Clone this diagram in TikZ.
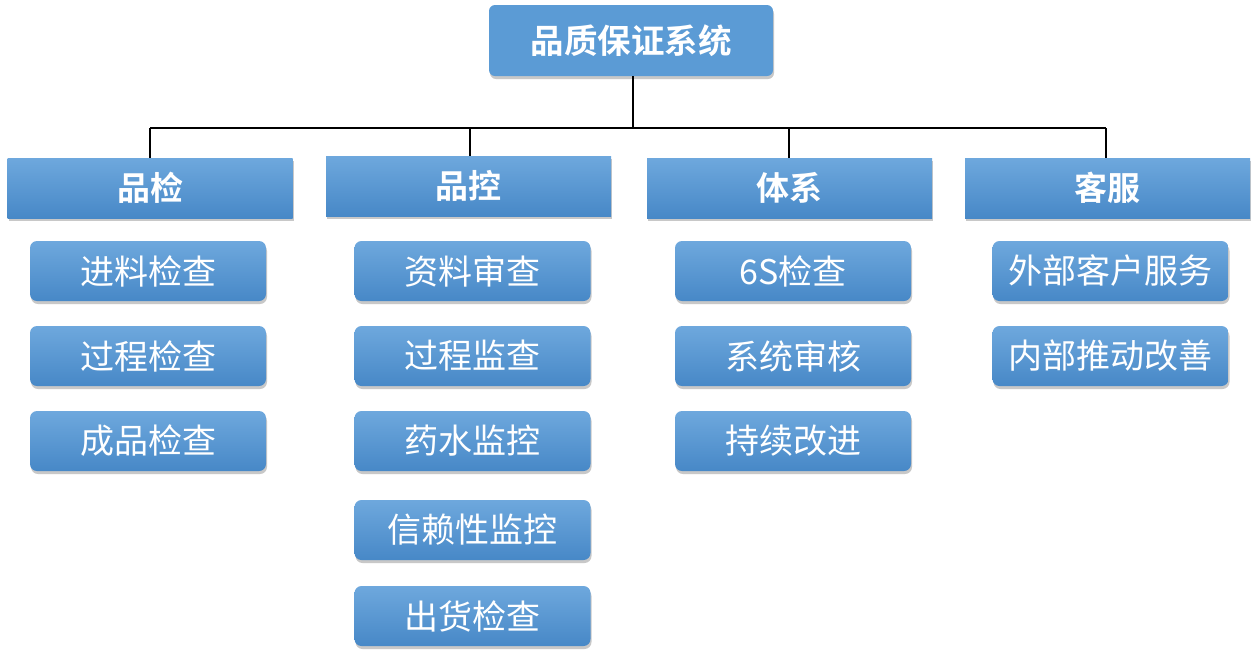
\documentclass[tikz,border=0pt]{standalone}
\usepackage{fontspec}
\newfontfamily\cjk{Noto Sans CJK SC}
\newfontfamily\cjkb{Noto Sans CJK SC Bold}
\usetikzlibrary{shadows}
\definecolor{topblue}{HTML}{5B9BD5}
\definecolor{gtop}{HTML}{6EA8DD}
\definecolor{gbot}{HTML}{4788C7}
\tikzset{
  rootbox/.style={fill=topblue, rounded corners=6pt, minimum width=284pt, minimum height=71pt,
    text=white, font=\cjkb\fontsize{33.5}{38}\selectfont, inner sep=0pt,
    drop shadow={shadow xshift=1pt, shadow yshift=-3pt, opacity=0.3, fill=black!70}},
  headbox/.style={top color=gtop, bottom color=gbot, minimum width=285pt, minimum height=60pt,
    text=white, font=\cjkb\fontsize{33}{38}\selectfont, inner sep=0pt,
    drop shadow={shadow xshift=1pt, shadow yshift=-3pt, opacity=0.3, fill=black!70}},
  subbox/.style={top color=gtop, bottom color=gbot, rounded corners=7pt, minimum width=236pt, minimum height=60pt,
    text=white, font=\cjk\fontsize{34}{38}\selectfont, inner sep=0pt,
    drop shadow={shadow xshift=1pt, shadow yshift=-3pt, opacity=0.3, fill=black!70}},
  conn/.style={draw=black, line width=1.6pt}
}
\begin{document}
\begin{tikzpicture}[x=1pt,y=-1pt]
\useasboundingbox (0,0) rectangle (1259,657);
\fill[white] (0,0) rectangle (1259,657);
% connectors
\coordinate (hub) at (633,128);
\coordinate (c1) at (150,128);
\coordinate (c2) at (470,128);
\coordinate (c3) at (789,128);
\coordinate (c4) at (1106,128);
\node[rootbox] (root) at (631,40.5) {品质保证系统};
\node[headbox] (h1) at (150,188) {品检};
\node[headbox] (h2) at (468.5,186) {品控};
\node[headbox] (h3) at (789.5,188) {体系};
\node[headbox] (h4) at (1107.5,188) {客服};
\draw[conn] (root.south -| hub) -- (hub);
\draw[conn] (c1) -- (c4);
\draw[conn] (c1) -- (h1.north -| c1);
\draw[conn] (c2) -- (h2.north -| c2);
\draw[conn] (c3) -- (h3.north -| c3);
\draw[conn] (c4) -- (h4.north -| c4);
% column 1
\node[subbox] (a1) at (148,271) {进料检查};
\node[subbox] (a2) at (148,356) {过程检查};
\node[subbox] (a3) at (148,441) {成品检查};
% column 2
\node[subbox] (b1) at (472.5,271) {资料审查};
\node[subbox] (b2) at (472.5,356) {过程监查};
\node[subbox] (b3) at (472.5,441) {药水监控};
\node[subbox] (b4) at (472.5,530) {信赖性监控};
\node[subbox] (b5) at (472.5,616) {出货检查};
% column 3
\node[subbox] (d1) at (793,271) {6S检查};
\node[subbox] (d2) at (793,356) {系统审核};
\node[subbox] (d3) at (793,441) {持续改进};
% column 4
\node[subbox] (e1) at (1110.5,271) {外部客户服务};
\node[subbox] (e2) at (1110.5,356) {内部推动改善};
\end{tikzpicture}
\end{document}
